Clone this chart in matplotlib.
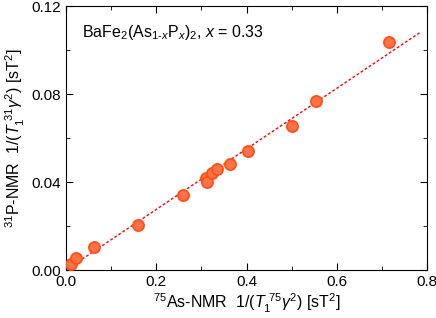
import numpy as np
import matplotlib
matplotlib.use('Agg')
import matplotlib.pyplot as plt

plt.rcParams['font.family'] = ['Liberation Sans', 'DejaVu Sans']
plt.rcParams['mathtext.fontset'] = 'custom'
plt.rcParams['mathtext.rm'] = 'Liberation Sans'
plt.rcParams['mathtext.it'] = 'Liberation Sans:italic'
plt.rcParams['mathtext.bf'] = 'Liberation Sans:bold'

# data
as_rate = [0.011, 0.022, 0.062, 0.160, 0.259, 0.310, 0.312, 0.324, 0.334,
           0.364, 0.404, 0.501, 0.554, 0.716]
p_rate = [0.0027, 0.0055, 0.0105, 0.0205, 0.034, 0.042, 0.040, 0.044, 0.046,
          0.048, 0.054, 0.0655, 0.0769, 0.1037]
fit_x = [0.0, 0.785]
fit_slope = 0.1376

fig = plt.figure(figsize=(4.36, 3.18), dpi=100)
ax = fig.add_axes([66/436, 1 - 270/318, 361/436, 264/318])

fx = np.array(fit_x)
ax.plot(fx, fit_slope * fx, color='red', linestyle=(0, (2, 1.5)), linewidth=1.0, zorder=2)
ax.plot(as_rate, p_rate, 'o', markersize=8, markerfacecolor='#ff7248',
        markeredgecolor='#ff5016', markeredgewidth=1.3, zorder=3)

ax.set_xlim(0, 0.8)
ax.set_ylim(0, 0.12)
ax.set_xticks(np.arange(0, 0.81, 0.2))
ax.set_xticks(np.arange(0, 0.81, 0.1), minor=True)
ax.set_yticks(np.arange(0, 0.121, 0.04))
ax.set_yticks(np.arange(0, 0.121, 0.02), minor=True)
ax.set_xticklabels(['0.0', '0.2', '0.4', '0.6', '0.8'])
ax.set_yticklabels(['0.00', '0.04', '0.08', '0.12'])
ax.tick_params(which='both', direction='in', top=True, right=True, labelsize=11)
ax.tick_params(which='major', length=5)
ax.tick_params(which='minor', length=3)

ax.set_xlabel(r'$^{75}$As-NMR  1/($T_1^{\ 75}\gamma^2$) [sT$^2$]', fontsize=11.5, labelpad=2)
ax.set_ylabel(r'$^{31}$P-NMR  1/($T_1^{\ 31}\gamma^2$) [sT$^2$]', fontsize=11.5, labelpad=3)

ax.text(0.035, 0.108, r'BaFe$_2$(As$_{1\text{-}x}$P$_x$)$_2$, $x$ = 0.33', fontsize=11.5, va='center')

fig.savefig('out.png', dpi=100)
